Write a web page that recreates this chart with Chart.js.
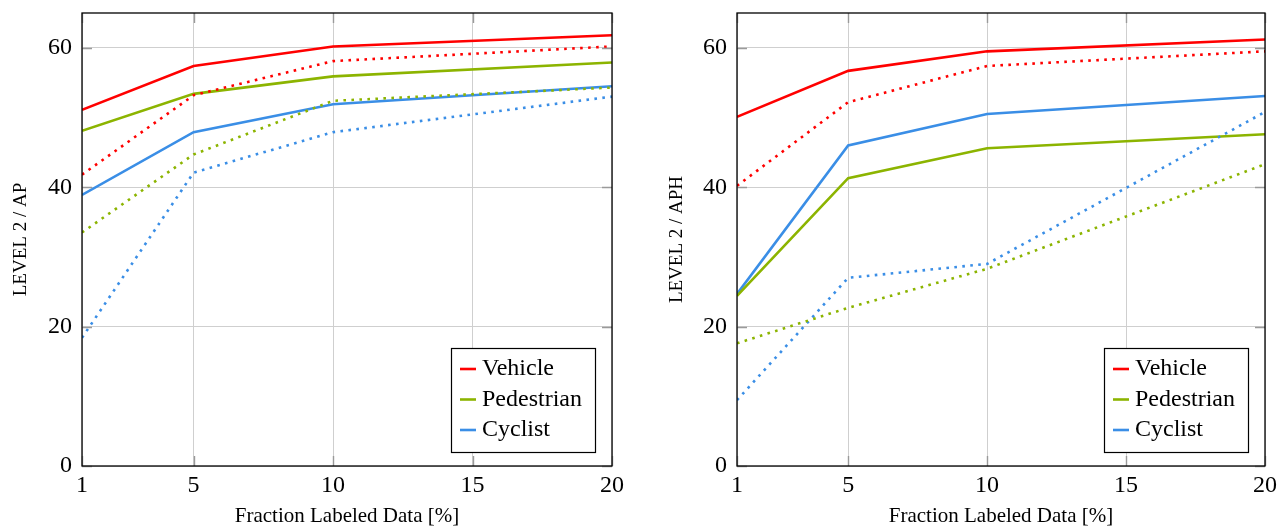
<!DOCTYPE html>
<html>
<head>
<meta charset="utf-8">
<script src="https://cdn.jsdelivr.net/npm/chart.js@4.4.1/dist/chart.umd.min.js"></script>
<style>
  html, body { margin: 0; padding: 0; background: #fff; }
  #wrap { position: relative; width: 1280px; height: 531px; }
  canvas { position: absolute; top: 0; }
  #c1 { left: 0; }
  #c2 { left: 640px; }
</style>
</head>
<body>
<div id="wrap">
  <canvas id="c1" width="640" height="531"></canvas>
  <canvas id="c2" width="640" height="531"></canvas>
</div>
<script>
// ---- data ----
const fractions = [1, 5, 10, 20];
const xTicks = [1, 5, 10, 15, 20];
const yTicks = [0, 20, 40, 60];
const classes = ['Vehicle', 'Pedestrian', 'Cyclist'];
const classColors = ['#ff0000', '#8cb400', '#3a8ee6'];

// LEVEL 2 / AP
const apVehicle       = [51.1, 57.4, 60.2, 61.8];
const apPedestrian    = [48.1, 53.4, 55.9, 57.9];
const apCyclist       = [38.9, 47.9, 51.9, 54.5];
const apVehicleDot    = [41.8, 53.2, 58.1, 60.2];
const apPedestrianDot = [33.5, 44.7, 52.4, 54.3];
const apCyclistDot    = [18.4, 42.1, 47.9, 53.0];

// LEVEL 2 / APH
const aphVehicle       = [50.1, 56.7, 59.5, 61.2];
const aphPedestrian    = [24.4, 41.3, 45.6, 47.6];
const aphCyclist       = [24.7, 46.0, 50.5, 53.1];
const aphVehicleDot    = [40.2, 52.2, 57.4, 59.5];
const aphPedestrianDot = [17.6, 22.7, 28.3, 43.3];
const aphCyclistDot    = [9.45, 27.0, 29.0, 50.8];

const SERIF = "'Liberation Serif', 'DejaVu Serif', serif";

function pts(arr) { return fractions.map((x, i) => ({ x: x, y: arr[i] })); }

function makeDatasets(solid, dotted) {
  const ds = [];
  solid.forEach((arr, i) => ds.push({
    label: classes[i], data: pts(arr), borderColor: classColors[i],
    borderWidth: 2.6, pointRadius: 0, tension: 0, order: 2, fill: false
  }));
  dotted.forEach((arr, i) => ds.push({
    label: classes[i] + ' (dotted)', data: pts(arr), borderColor: classColors[i],
    borderWidth: 2.6, borderDash: [2.6, 5.4], borderCapStyle: 'butt',
    pointRadius: 0, tension: 0, order: 1, fill: false, isDotted: true
  }));
  return ds;
}

const framePlugin = {
  id: 'frameLegend',
  afterDraw(chart) {
    const ctx = chart.ctx;
    const a = chart.chartArea;
    const xs = chart.scales.x, ys = chart.scales.y;
    ctx.save();
    // inner tick marks
    ctx.strokeStyle = '#9a9a9a';
    ctx.lineWidth = 1.4;
    const tl = 10;
    xTicks.forEach(v => {
      const px = Math.round(xs.getPixelForValue(v)) + 0.5;
      ctx.beginPath();
      ctx.moveTo(px, a.bottom); ctx.lineTo(px, a.bottom - tl);
      ctx.moveTo(px, a.top); ctx.lineTo(px, a.top + tl);
      ctx.stroke();
    });
    yTicks.forEach(v => {
      const py = Math.round(ys.getPixelForValue(v)) + 0.5;
      ctx.beginPath();
      ctx.moveTo(a.left, py); ctx.lineTo(a.left + tl, py);
      ctx.moveTo(a.right, py); ctx.lineTo(a.right - tl, py);
      ctx.stroke();
    });
    // frame
    ctx.strokeStyle = '#000';
    ctx.lineWidth = 1.3;
    ctx.strokeRect(a.left, a.top, a.right - a.left, a.bottom - a.top);
    // legend
    const bw = 144, bh = 104;
    const bx = a.right - 17 - bw, by = a.bottom - 14 - bh;
    ctx.fillStyle = '#fff';
    ctx.fillRect(bx, by, bw, bh);
    ctx.strokeStyle = '#000';
    ctx.lineWidth = 1.2;
    ctx.strokeRect(bx + 0.5, by + 0.5, bw, bh);
    const items = chart.data.datasets.filter(d => !d.isDotted);
    ctx.font = '24px ' + SERIF;
    ctx.textBaseline = 'middle';
    ctx.textAlign = 'left';
    items.forEach((d, i) => {
      const yy = by + 21 + i * 30.5;
      ctx.strokeStyle = d.borderColor;
      ctx.lineWidth = 2.6;
      ctx.beginPath();
      ctx.moveTo(bx + 9, yy); ctx.lineTo(bx + 25, yy);
      ctx.stroke();
      ctx.fillStyle = '#000';
      ctx.fillText(d.label, bx + 31, yy);
    });
    ctx.restore();
  }
};

function makeChart(id, solid, dotted, yTitle, padLeft, yWidth, padRight) {
  return new Chart(document.getElementById(id), {
    type: 'line',
    data: { datasets: makeDatasets(solid, dotted) },
    options: {
      responsive: false,
      animation: false,
      devicePixelRatio: 1,
      layout: { padding: { top: 13, right: padRight, left: padLeft, bottom: 0 } },
      plugins: { legend: { display: false }, tooltip: { enabled: false } },
      scales: {
        x: {
          type: 'linear', min: 1, max: 20,
          afterBuildTicks: s => { s.ticks = xTicks.map(v => ({ value: v })); },
          afterFit: s => { s.height = 65; s.paddingLeft = 0; s.paddingRight = 0; },
          grid: { color: '#cfcfcf', lineWidth: 1, drawTicks: false },
          border: { display: false },
          ticks: { color: '#000', font: { family: SERIF, size: 24 }, padding: 5, maxRotation: 0, autoSkip: false },
          title: { display: true, text: 'Fraction Labeled Data [%]', color: '#000',
                   font: { family: SERIF, size: 21 }, padding: { top: 0, bottom: 1.5 } }
        },
        y: {
          type: 'linear', min: 0, max: 65,
          afterBuildTicks: s => { s.ticks = yTicks.map(v => ({ value: v })); },
          afterFit: s => { s.width = yWidth; s.paddingTop = 0; s.paddingBottom = 0; },
          grid: { color: '#cfcfcf', lineWidth: 1, drawTicks: false },
          border: { display: false },
          ticks: { color: '#000', font: { family: SERIF, size: 24 }, padding: 10 },
          title: { display: true, text: yTitle, color: '#000',
                   font: { family: SERIF, size: 19 }, padding: { top: 9.5, bottom: 0 } }
        }
      }
    },
    plugins: [framePlugin]
  });
}

makeChart('c1',
  [apVehicle, apPedestrian, apCyclist],
  [apVehicleDot, apPedestrianDot, apCyclistDot],
  'LEVEL 2 / AP', 0, 82, 28);
makeChart('c2',
  [aphVehicle, aphPedestrian, aphCyclist],
  [aphVehicleDot, aphPedestrianDot, aphCyclistDot],
  'LEVEL 2 / APH', 16, 81, 15);
</script>
</body>
</html>
